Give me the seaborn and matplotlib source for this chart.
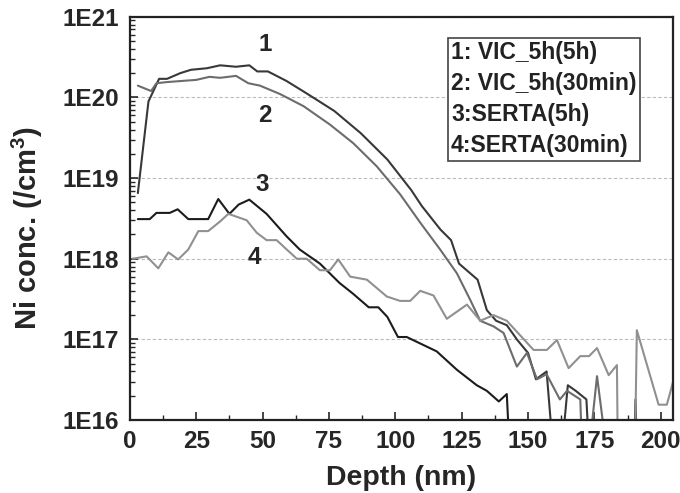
import numpy as np
import pandas as pd
import matplotlib
matplotlib.use("Agg")
import matplotlib.pyplot as plt
import matplotlib.ticker as mticker
import seaborn as sns

# depth (nm) and Ni concentration (/cm3)
# 1e15 marks points that fall below the 1E16 floor
depth1 = [3, 7, 11, 14, 19, 23, 29, 34, 40, 45, 48, 52, 59, 67, 77, 87, 97, 106, 110,
          117, 121, 124, 131, 134.5, 138, 142, 146, 150, 153, 157, 161, 165, 168, 172,
          174, 189.5, 190.5, 191.5]
conc1 = [6.5e18, 8.9e19, 1.7e20, 1.7e20, 2.0e20, 2.2e20, 2.3e20, 2.5e20, 2.4e20, 2.5e20,
         2.1e20, 2.1e20, 1.6e20, 1.1e20, 6.8e19, 3.6e19, 1.7e19, 7.1e18, 4.5e18, 2.3e18,
         1.7e18, 8.7e17, 5.5e17, 2.3e17, 1.7e17, 1.5e17, 9.8e16, 6.8e16, 3.2e16, 4.0e16,
         1e15, 2.7e16, 2.3e16, 1.8e16, 1e15, 1e15, 1.8e16, 1e15]

depth2 = [3, 8, 10, 14, 25, 30, 34, 40, 44.6, 49, 56.6, 65.4, 75.4, 84.2, 93, 101.8,
          109.4, 116.9, 123.2, 128.2, 132, 137, 140.8, 145.8, 149.6, 153.4, 157, 162,
          164.7, 169.7, 171, 176, 182]
conc2 = [1.4e20, 1.2e20, 1.5e20, 1.55e20, 1.65e20, 1.8e20, 1.75e20, 1.85e20, 1.5e20,
         1.4e20, 1.1e20, 7.8e19, 4.6e19, 2.7e19, 1.4e19, 6.3e18, 2.8e18, 1.3e18, 6.6e17,
         3.1e17, 1.7e17, 1.45e17, 1.2e17, 4.6e16, 6.8e16, 3.2e16, 3.7e16, 1.8e16, 2.3e16,
         1.8e16, 1e15, 3.5e16, 1e15]

depth3 = [3, 7.5, 10, 15, 18, 22, 29.5, 33.3, 37.5, 41, 45, 51.5, 59, 64, 71.6, 79, 84,
          90, 93.6, 97, 101, 104.3, 115.6, 123.2, 130.7, 134.5, 139, 142, 144]
conc3 = [3.1e18, 3.1e18, 3.7e18, 3.7e18, 4.1e18, 3.1e18, 3.1e18, 5.5e18, 3.6e18, 4.7e18,
         5.4e18, 3.6e18, 1.9e18, 1.3e18, 8.7e17, 5.0e17, 3.7e17, 2.5e17, 2.5e17, 1.9e17,
         1.07e17, 1.07e17, 7.1e16, 4.2e16, 2.7e16, 2.3e16, 1.7e16, 2.1e16, 1e15]

depth4 = [1, 6.3, 10.7, 14.5, 18.2, 22, 25.8, 29.5, 34, 37.1, 44, 47.8, 51.5, 55.3, 59.1,
          62.9, 66.6, 71.6, 75.4, 78.5, 83, 89.3, 96.8, 101.8, 105.6, 109.4, 114.4, 119.4,
          127, 132, 137, 142, 152.1, 157.1, 160.9, 165.3, 169.7, 173, 176, 180.4, 183.5,
          184, 190, 191, 199.2, 202.3, 204.9]
conc4 = [1.0e18, 1.07e18, 7.6e17, 1.2e18, 9.8e17, 1.3e18, 2.2e18, 2.2e18, 2.9e18, 3.6e18,
         3.0e18, 2.1e18, 1.7e18, 1.7e18, 1.3e18, 1.0e18, 1.0e18, 7.2e17, 7.2e17, 9.8e17,
         6.0e17, 5.5e17, 3.4e17, 3.0e17, 3.0e17, 4.0e17, 3.5e17, 1.8e17, 2.7e17, 1.7e17,
         2.0e17, 1.7e17, 7.4e16, 7.4e16, 9.8e16, 4.4e16, 6.2e16, 6.2e16, 7.8e16, 3.6e16,
         4.8e16, 1e15, 1e15, 1.3e17, 1.55e16, 1.55e16, 3.2e16]

series_names = ["1", "2", "3", "4"]
legend_lines = ["1: VIC_5h(5h)", "2: VIC_5h(30min)", "3:SERTA(5h)", "4:SERTA(30min)"]
y_decades = [1e16, 1e17, 1e18, 1e19, 1e20, 1e21]
y_labels = ["1E16", "1E17", "1E18", "1E19", "1E20", "1E21"]
x_ticks = [0, 25, 50, 75, 100, 125, 150, 175, 200]

frames = []
for name, d, c in zip(series_names, [depth1, depth2, depth3, depth4],
                      [conc1, conc2, conc3, conc4]):
    frames.append(pd.DataFrame({"depth": d, "conc": c, "sample": name}))
df = pd.concat(frames, ignore_index=True)

sns.set_theme(style="ticks")
plt.rcParams["font.family"] = ["Liberation Sans", "DejaVu Sans"]
plt.rcParams["font.weight"] = "bold"
plt.rcParams["mathtext.fontset"] = "custom"
plt.rcParams["mathtext.rm"] = "Liberation Sans:bold"
plt.rcParams["mathtext.default"] = "rm"

fig = plt.figure(figsize=(6.8, 4.93), dpi=100)
ax = fig.add_axes([0.191, 0.148, 0.799, 0.818])

palette = {"1": "#383838", "2": "#6c6c6c", "3": "#1c1c1c", "4": "#909090"}
sns.lineplot(data=df, x="depth", y="conc", hue="sample", palette=palette,
             estimator=None, sort=False, legend=False, linewidth=1.5, ax=ax)

ax.set_yscale("log")
ax.set_ylim(1e16, 1e21)
ax.set_xlim(0, 204.7)

ax.yaxis.set_major_locator(mticker.FixedLocator(y_decades))
ax.set_yticklabels(y_labels)
ax.yaxis.set_minor_locator(mticker.LogLocator(base=10, subs=np.arange(2, 10)))
ax.yaxis.set_minor_formatter(mticker.NullFormatter())
ax.set_xticks(x_ticks)
ax.xaxis.set_minor_locator(mticker.MultipleLocator(12.5))

ax.tick_params(axis="both", which="major", direction="in", length=6, width=1.2,
               labelsize=17.5)
ax.tick_params(axis="x", which="major", pad=7)
ax.tick_params(axis="y", which="major", pad=8)
ax.tick_params(axis="both", which="minor", direction="in", length=3.5, width=1)
for lab in ax.get_xticklabels() + ax.get_yticklabels():
    lab.set_fontweight("bold")

for sp in ax.spines.values():
    sp.set_linewidth(1.6)
    sp.set_color("#222222")

ax.grid(axis="y", which="major", color="#bbbbbb", linestyle=(0, (3, 2)), linewidth=0.8)

ax.set_xlabel("Depth (nm)", fontsize=20.5, fontweight="bold", labelpad=9)
ax.set_ylabel(r"Ni conc. (/cm$^{3}$)", fontsize=21, fontweight="bold")
ax.yaxis.set_label_coords(-0.157, 0.475)

# curve numbers
ax.text(50.9, 10**20.65, "1", fontsize=17.5, fontweight="bold", ha="center", va="center")
ax.text(50.9, 10**19.78, "2", fontsize=17.5, fontweight="bold", ha="center", va="center")
ax.text(49.8, 10**18.92, "3", fontsize=17.5, fontweight="bold", ha="center", va="center")
ax.text(47, 10**18.01, "4", fontsize=17.5, fontweight="bold", ha="center", va="center")

ax.text(0.591, 0.94, "\n".join(legend_lines), transform=ax.transAxes,
        fontsize=16.5, fontweight="bold", ha="left", va="top", linespacing=1.45,
        color="#222222",
        bbox=dict(boxstyle="square,pad=0.15", facecolor="white", edgecolor="#444444",
                  linewidth=1.2))

fig.savefig("out.png", dpi=100)
